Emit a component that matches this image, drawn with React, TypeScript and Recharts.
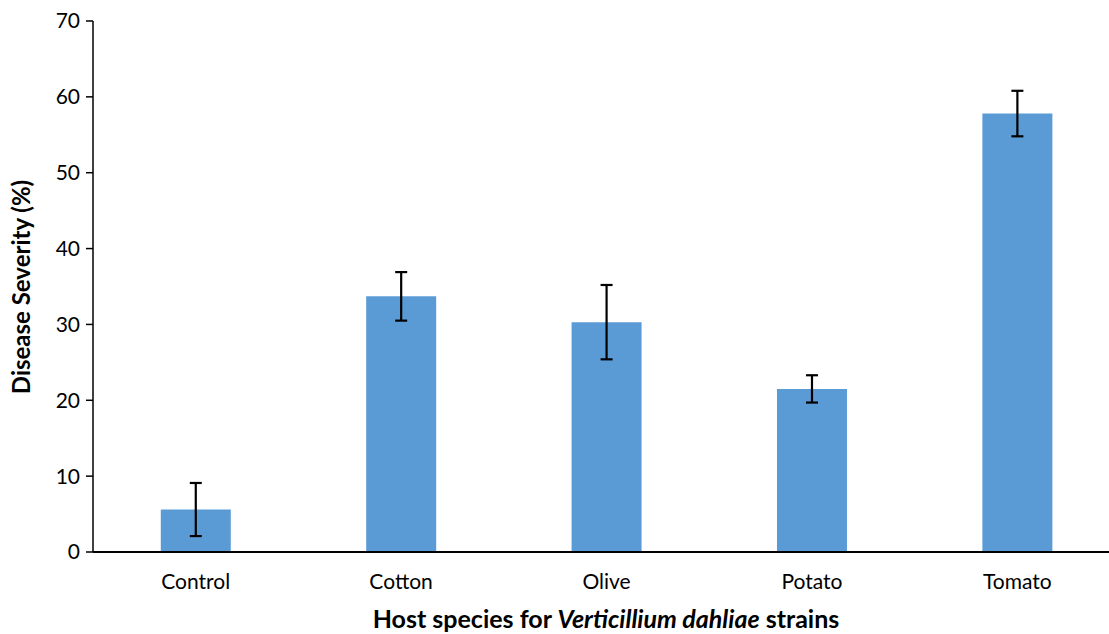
import React from 'react';
import { BarChart, Bar, XAxis, YAxis, ErrorBar, Label } from 'recharts';

const hosts = ['Control', 'Cotton', 'Olive', 'Potato', 'Tomato'];
const severity = [5.6, 33.7, 30.3, 21.5, 57.8];
const severityErr = [3.5, 3.2, 4.9, 1.8, 3.0];
const yTicks = [0, 10, 20, 30, 40, 50, 60, 70];

const data = hosts.map((h, i) => ({ host: h, severity: severity[i], err: severityErr[i] }));

const font = 'Lato, "Open Sans", sans-serif';

export default function App() {
  return (
    <div style={{ position: 'absolute', left: 0, top: 0, width: 1109, height: 634, overflow: 'hidden', background: '#fff' }}>
      <BarChart
        width={1125}
        height={634}
        data={data}
        margin={{ top: 21, right: 5, bottom: 0, left: 53 }}
        barCategoryGap="33%"
      >
        <XAxis
          dataKey="host"
          tickLine={false}
          axisLine={{ stroke: '#000', strokeWidth: 2 }}
          tick={{ fill: '#000', fontSize: 21, fontFamily: font }}
          tickMargin={16}
          height={82}
        >
          <Label
            position="insideBottom"
            content={() => (
              <text x={606} y={628} textAnchor="middle" fontFamily={font} fontSize={25} fontWeight="bold" fill="#000">
                Host species for <tspan fontStyle="italic">Verticillium dahliae</tspan> strains
              </text>
            )}
          />
        </XAxis>
        <YAxis
          domain={[0, 70]}
          ticks={yTicks}
          width={40}
          axisLine={{ stroke: '#000', strokeWidth: 1.5 }}
          tickLine={{ stroke: '#000', strokeWidth: 1.5 }}
          tickSize={7}
          tick={{ fill: '#000', fontSize: 21, fontFamily: font }}
          tickMargin={6}
        >
          <Label
            position="insideLeft"
            content={() => (
              <text x={30} y={287} transform="rotate(-90 30 287)" textAnchor="middle" fontFamily={font} fontSize={24} fontWeight="bold" fill="#000">
                Disease Severity (%)
              </text>
            )}
          />
        </YAxis>
        <Bar dataKey="severity" fill="#5B9BD5" isAnimationActive={false}>
          <ErrorBar dataKey="err" width={6} stroke="#000" strokeWidth={2.2} direction="y" />
        </Bar>
      </BarChart>
    </div>
  );
}
